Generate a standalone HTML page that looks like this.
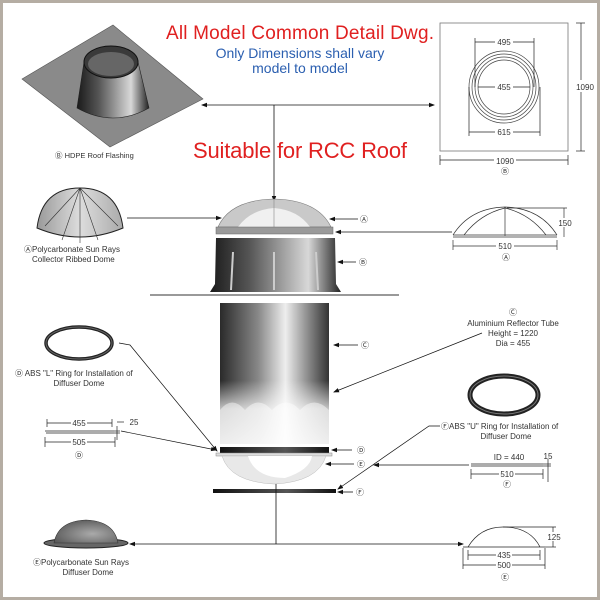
<!DOCTYPE html>
<html><head><meta charset="utf-8"><style>
html,body{margin:0;padding:0;background:#fff}
svg{display:block}
text{font-family:"Liberation Sans",sans-serif}
</style></head><body>
<svg width="600" height="600" viewBox="0 0 600 600" xmlns="http://www.w3.org/2000/svg">
<defs>
<marker id="ar" markerWidth="6" markerHeight="6" refX="5" refY="3" orient="auto" markerUnits="userSpaceOnUse"><path d="M0,0.8 L6,3 L0,5.2z" fill="#111"/></marker>
<linearGradient id="collar" x1="0" x2="1"><stop offset="0" stop-color="#1a1a1a"/><stop offset="0.3" stop-color="#555"/><stop offset="0.75" stop-color="#d8d8d8"/><stop offset="1" stop-color="#222"/></linearGradient>
<linearGradient id="tube" x1="0" x2="1"><stop offset="0" stop-color="#2a2a2a"/><stop offset="0.35" stop-color="#888"/><stop offset="0.6" stop-color="#eee"/><stop offset="0.85" stop-color="#777"/><stop offset="1" stop-color="#333"/></linearGradient>
<linearGradient id="tubev" x1="0" y1="0" x2="0" y2="1"><stop offset="0.55" stop-color="#fff" stop-opacity="0"/><stop offset="0.75" stop-color="#fff" stop-opacity="0.7"/><stop offset="1" stop-color="#fff" stop-opacity="0.85"/></linearGradient>
<linearGradient id="dome" x1="0" x2="1"><stop offset="0" stop-color="#999"/><stop offset="0.5" stop-color="#ddd"/><stop offset="1" stop-color="#aaa"/></linearGradient>
<radialGradient id="ddome" cx="0.6" cy="0.6" r="0.7"><stop offset="0" stop-color="#aaa"/><stop offset="1" stop-color="#555"/></radialGradient>
<linearGradient id="band" x1="0" x2="1"><stop offset="0" stop-color="#111"/><stop offset="0.6" stop-color="#555"/><stop offset="1" stop-color="#111"/></linearGradient>
</defs>
<rect x="1.5" y="1.5" width="597" height="597" fill="#fff" stroke="#b5ada3" stroke-width="3"/>

<!-- titles -->
<text x="166" y="39" font-size="19" fill="#e02020" textLength="268">All Model Common Detail Dwg.</text>
<text x="300" y="58" font-size="14" fill="#2b5fb0" text-anchor="middle">Only Dimensions shall vary</text>
<text x="300" y="73" font-size="14" fill="#2b5fb0" text-anchor="middle">model to model</text>
<text x="193" y="158" font-size="22" fill="#e02020" textLength="214">Suitable for  RCC Roof</text>

<!-- flashing -->
<polygon points="22,79 113,25 203,99 110,147" fill="#8a8a8a" stroke="#555" stroke-width="0.6"/>
<path d="M84,62 L77,108 Q113,128 149,108 L138,62 Z" fill="url(#collar)" stroke="#222" stroke-width="0.6"/>
<ellipse cx="111" cy="62" rx="27" ry="16" fill="#3a3a3a" stroke="#111"/>
<ellipse cx="111" cy="64" rx="23" ry="12" fill="#666"/>
<text x="55" y="158" font-size="7.5" fill="#333">Ⓑ HDPE Roof Flashing</text>

<!-- connector lines top -->
<line x1="274" y1="105" x2="202" y2="105" stroke="#111" stroke-width="0.8" marker-end="url(#ar)"/>
<line x1="274" y1="105" x2="434" y2="105" stroke="#111" stroke-width="0.8" marker-end="url(#ar)"/>
<line x1="274" y1="105" x2="274" y2="201" stroke="#111" stroke-width="0.8" marker-end="url(#ar)"/>

<!-- box plan -->
<rect x="440" y="23" width="128" height="128" fill="#fff" stroke="#777" stroke-width="0.8"/>
<g fill="none" stroke="#444" stroke-width="0.7">
<ellipse cx="504" cy="87" rx="35" ry="36"/><ellipse cx="504" cy="87" rx="32" ry="33"/>
<ellipse cx="504" cy="87" rx="29" ry="30"/><ellipse cx="504" cy="87" rx="26" ry="27"/>
</g>
<g stroke="#222" stroke-width="0.7">
<line x1="475" y1="42" x2="534" y2="42"/><line x1="475" y1="38" x2="475" y2="87"/><line x1="534" y1="38" x2="534" y2="87"/>
<line x1="478" y1="87" x2="530" y2="87"/>
<line x1="469" y1="132" x2="540" y2="132"/><line x1="469" y1="87" x2="469" y2="136"/><line x1="540" y1="87" x2="540" y2="136"/>
<line x1="581" y1="23" x2="581" y2="151"/><line x1="576" y1="23" x2="585" y2="23"/><line x1="576" y1="151" x2="585" y2="151"/>
<line x1="440" y1="160" x2="568" y2="160"/><line x1="440" y1="155" x2="440" y2="165"/><line x1="568" y1="155" x2="568" y2="165"/>
</g>
<g font-size="8" fill="#333" text-anchor="middle">
<rect x="495" y="37" width="18" height="9" fill="#fff"/><text x="504" y="45">495</text>
<rect x="495" y="82" width="18" height="9" fill="#fff"/><text x="504" y="90">455</text>
<rect x="495" y="127" width="18" height="9" fill="#fff"/><text x="504" y="135">615</text>
<rect x="574" y="80" width="20" height="12" fill="#fff"/><text x="585" y="90">1090</text>
<rect x="494" y="155" width="22" height="9" fill="#fff"/><text x="505" y="164">1090</text>
<text x="505" y="174">Ⓑ</text>
</g>

<!-- left ribbed dome -->
<path d="M37,228 Q42,188 80,188 Q118,188 123,228 Q80,246 37,228 Z" fill="url(#dome)" stroke="#222"/>
<g stroke="#333" stroke-width="0.6" fill="none">
<path d="M80,188 L62,240 M80,188 L98,240 M80,188 L45,226 M80,188 L118,226 M80,188 L80,243"/>
</g>
<text x="24" y="252" font-size="8" fill="#333">ⒶPolycarbonate Sun Rays</text>
<text x="32" y="262" font-size="8" fill="#333">Collector Ribbed Dome</text>
<line x1="127" y1="218" x2="221" y2="218" stroke="#111" stroke-width="0.8" marker-end="url(#ar)"/>

<!-- assembly dome A -->
<path d="M218,227 Q230,200 274,199 Q318,200 331,227 Z" fill="#c9c9c9" stroke="#777" stroke-width="0.6"/>
<path d="M238,227 Q250,210 274,208 Q298,210 310,227 Z" fill="#f0f0f0"/>
<line x1="274" y1="199" x2="274" y2="233" stroke="#888" stroke-width="0.6"/>
<rect x="216" y="227" width="117" height="7" fill="#9a9a9a" stroke="#666" stroke-width="0.5"/>
<line x1="358" y1="219" x2="330" y2="219" stroke="#111" stroke-width="0.8" marker-end="url(#ar)"/>
<text x="364" y="222" font-size="8" fill="#333" text-anchor="middle">Ⓐ</text>

<!-- collar assembly -->
<path d="M216,238 L335,238 L336,284 L341,292 L210,292 L215,284 Z" fill="url(#collar)"/>
<g stroke="#ccc" stroke-width="2"><line x1="233" y1="252" x2="231" y2="290"/><line x1="274" y1="252" x2="274" y2="290"/><line x1="316" y1="252" x2="318" y2="290"/></g>
<line x1="150" y1="295" x2="399" y2="295" stroke="#333" stroke-width="1"/>
<line x1="356" y1="262" x2="338" y2="262" stroke="#111" stroke-width="0.8" marker-end="url(#ar)"/>
<text x="363" y="265" font-size="8" fill="#333" text-anchor="middle">Ⓑ</text>

<!-- right dome drawing -->
<g fill="none" stroke="#333" stroke-width="0.7">
<path d="M453,235 Q470,208 505,207 Q540,208 557,235"/>
<path d="M464,235 Q480,214 505,208 Q530,214 546,235"/>
<line x1="505" y1="207" x2="505" y2="236"/>
<line x1="453" y1="235" x2="557" y2="235"/><line x1="453" y1="237" x2="557" y2="237"/>
<line x1="564" y1="208" x2="564" y2="237"/><line x1="507" y1="208" x2="567" y2="208"/>
<line x1="453" y1="246" x2="557" y2="246"/><line x1="453" y1="240" x2="453" y2="250"/><line x1="557" y1="240" x2="557" y2="250"/>
</g>
<g font-size="8" fill="#333" text-anchor="middle">
<rect x="558" y="218" width="12" height="9" fill="#fff"/><text x="565" y="226">150</text>
<rect x="496" y="241" width="18" height="9" fill="#fff"/><text x="505" y="249">510</text>
<text x="506" y="260">Ⓐ</text>
</g>
<line x1="452" y1="232" x2="336" y2="232" stroke="#111" stroke-width="0.8" marker-end="url(#ar)"/>

<!-- tube -->
<rect x="220" y="303" width="109" height="141" fill="url(#tube)"/>
<rect x="220" y="303" width="109" height="141" fill="url(#tubev)"/>
<path d="M220,410 Q232,395 245,410 Q258,395 272,410 Q286,395 300,410 Q314,395 329,410 L329,444 L220,444 Z" fill="#fff" opacity="0.45"/>
<line x1="358" y1="345" x2="334" y2="345" stroke="#111" stroke-width="0.8" marker-end="url(#ar)"/>
<text x="365" y="348" font-size="8" fill="#333" text-anchor="middle">Ⓒ</text>
<g font-size="8" fill="#333" text-anchor="middle">
<text x="513" y="315">Ⓒ</text>
<text x="513" y="326">Aluminium Reflector Tube</text>
<text x="513" y="336">Height = 1220</text>
<text x="513" y="346">Dia = 455</text>
</g>
<line x1="482" y1="333" x2="334" y2="392" stroke="#111" stroke-width="0.7" marker-end="url(#ar)"/>

<!-- D band, diffuser, F bar -->
<rect x="220" y="447" width="109" height="6" fill="url(#band)"/>
<rect x="216" y="453" width="116" height="3" fill="#ddd" stroke="#888" stroke-width="0.5"/>
<path d="M222,456 Q230,482 274,484 Q318,482 326,456 Z" fill="#e8e8e8" stroke="#bbb" stroke-width="0.5"/>
<path d="M248,456 Q255,478 285,478 Q310,470 312,456 Z" fill="#fff"/>
<rect x="213" y="489" width="123" height="4" fill="url(#band)"/>
<line x1="352" y1="450" x2="332" y2="450" stroke="#111" stroke-width="0.8" marker-end="url(#ar)"/>
<text x="361" y="453" font-size="8" fill="#333" text-anchor="middle">Ⓓ</text>
<line x1="354" y1="464" x2="326" y2="464" stroke="#111" stroke-width="0.8" marker-end="url(#ar)"/>
<text x="361" y="467" font-size="8" fill="#333" text-anchor="middle">Ⓔ</text>
<line x1="353" y1="492" x2="338" y2="492" stroke="#111" stroke-width="0.8" marker-end="url(#ar)"/>
<text x="360" y="495" font-size="8" fill="#333" text-anchor="middle">Ⓕ</text>

<!-- L ring left -->
<ellipse cx="79" cy="343" rx="33" ry="16" fill="none" stroke="#222" stroke-width="3.5"/>
<ellipse cx="79" cy="343" rx="33" ry="16" fill="none" stroke="#666" stroke-width="1"/>
<text x="15" y="376" font-size="8" fill="#333">Ⓓ ABS "L" Ring for Installation of</text>
<text x="79" y="386" font-size="8" fill="#333" text-anchor="middle">Diffuser Dome</text>
<polyline points="119,343 130,345 217,451" fill="none" stroke="#111" stroke-width="0.7" marker-end="url(#ar)"/>
<g stroke="#222" stroke-width="0.7" fill="none">
<line x1="47" y1="423" x2="112" y2="423"/><line x1="47" y1="419" x2="47" y2="427"/><line x1="112" y1="419" x2="112" y2="427"/>
<line x1="45" y1="431" x2="114" y2="431"/><line x1="46" y1="433" x2="114" y2="433"/>
<line x1="45" y1="442" x2="115" y2="442"/><line x1="45" y1="437" x2="45" y2="447"/><line x1="115" y1="437" x2="115" y2="447"/>
<line x1="117" y1="426" x2="117" y2="440"/><line x1="114" y1="431" x2="120" y2="431"/><line x1="114" y1="433" x2="120" y2="433"/>
<line x1="117" y1="422" x2="124" y2="422"/>
</g>
<g font-size="8" fill="#333" text-anchor="middle">
<rect x="71" y="418" width="16" height="9" fill="#fff"/><text x="79" y="426">455</text>
<rect x="71" y="437" width="16" height="9" fill="#fff"/><text x="79" y="445">505</text>
<text x="134" y="425">25</text>
<text x="79" y="458">Ⓓ</text>
</g>
<line x1="121" y1="431" x2="216" y2="450" stroke="#111" stroke-width="0.7" marker-end="url(#ar)"/>

<!-- F ring right -->
<ellipse cx="504" cy="395" rx="34" ry="19" fill="none" stroke="#222" stroke-width="5"/>
<ellipse cx="504" cy="395" rx="34" ry="19" fill="none" stroke="#777" stroke-width="1"/>
<text x="441" y="429" font-size="8" fill="#333">ⒻABS "U" Ring for Installation of</text>
<text x="506" y="439" font-size="8" fill="#333" text-anchor="middle">Diffuser Dome</text>
<polyline points="440,426 429,426 338,489" fill="none" stroke="#111" stroke-width="0.7" marker-end="url(#ar)"/>
<g stroke="#222" stroke-width="0.7" fill="none">
<line x1="471" y1="464" x2="543" y2="464"/><line x1="471" y1="466" x2="543" y2="466"/>
<line x1="471" y1="474" x2="543" y2="474"/><line x1="471" y1="469" x2="471" y2="479"/><line x1="543" y1="469" x2="543" y2="479"/>
<line x1="548" y1="459" x2="548" y2="482"/><line x1="543" y1="464" x2="551" y2="464"/><line x1="543" y1="466" x2="551" y2="466"/>
</g>
<g font-size="8" fill="#333" text-anchor="middle">
<text x="509" y="460">ID = 440</text><text x="548" y="459">15</text>
<rect x="499" y="469" width="16" height="9" fill="#fff"/><text x="507" y="477">510</text>
<text x="507" y="487">Ⓕ</text>
</g>
<line x1="469" y1="465" x2="374" y2="465" stroke="#111" stroke-width="0.8" marker-end="url(#ar)"/>

<!-- bottom connectors -->
<line x1="276" y1="484" x2="276" y2="544" stroke="#111" stroke-width="0.8"/>
<line x1="276" y1="544" x2="130" y2="544" stroke="#111" stroke-width="0.8" marker-end="url(#ar)"/>
<line x1="276" y1="544" x2="463" y2="544" stroke="#111" stroke-width="0.8" marker-end="url(#ar)"/>

<!-- diffuser dome left -->
<ellipse cx="86" cy="543" rx="42" ry="5" fill="#666" stroke="#222"/>
<path d="M54,543 Q58,521 86,520 Q114,521 118,543 Z" fill="url(#ddome)" stroke="#333" stroke-width="0.6"/>
<text x="33" y="565" font-size="8" fill="#333">ⒺPolycarbonate Sun Rays</text>
<text x="88" y="575" font-size="8" fill="#333" text-anchor="middle">Diffuser Dome</text>

<!-- right diffuser drawing -->
<g stroke="#222" stroke-width="0.7" fill="none">
<path d="M468,547 Q480,527 503,527 Q530,527 540,547"/>
<line x1="463" y1="547" x2="545" y2="547"/>
<line x1="503" y1="527" x2="556" y2="527"/><line x1="553" y1="527" x2="553" y2="547"/><line x1="545" y1="547" x2="556" y2="547"/>
<line x1="468" y1="555" x2="540" y2="555"/><line x1="468" y1="550" x2="468" y2="560"/><line x1="540" y1="550" x2="540" y2="560"/>
<line x1="463" y1="565" x2="545" y2="565"/><line x1="463" y1="548" x2="463" y2="569"/><line x1="545" y1="548" x2="545" y2="569"/>
</g>
<g font-size="8" fill="#333" text-anchor="middle">
<rect x="546" y="532" width="14" height="9" fill="#fff"/><text x="554" y="540">125</text>
<rect x="496" y="550" width="16" height="9" fill="#fff"/><text x="504" y="558">435</text>
<rect x="496" y="560" width="16" height="9" fill="#fff"/><text x="504" y="568">500</text>
<text x="505" y="580">Ⓔ</text>
</g>
</svg>
</body></html>
